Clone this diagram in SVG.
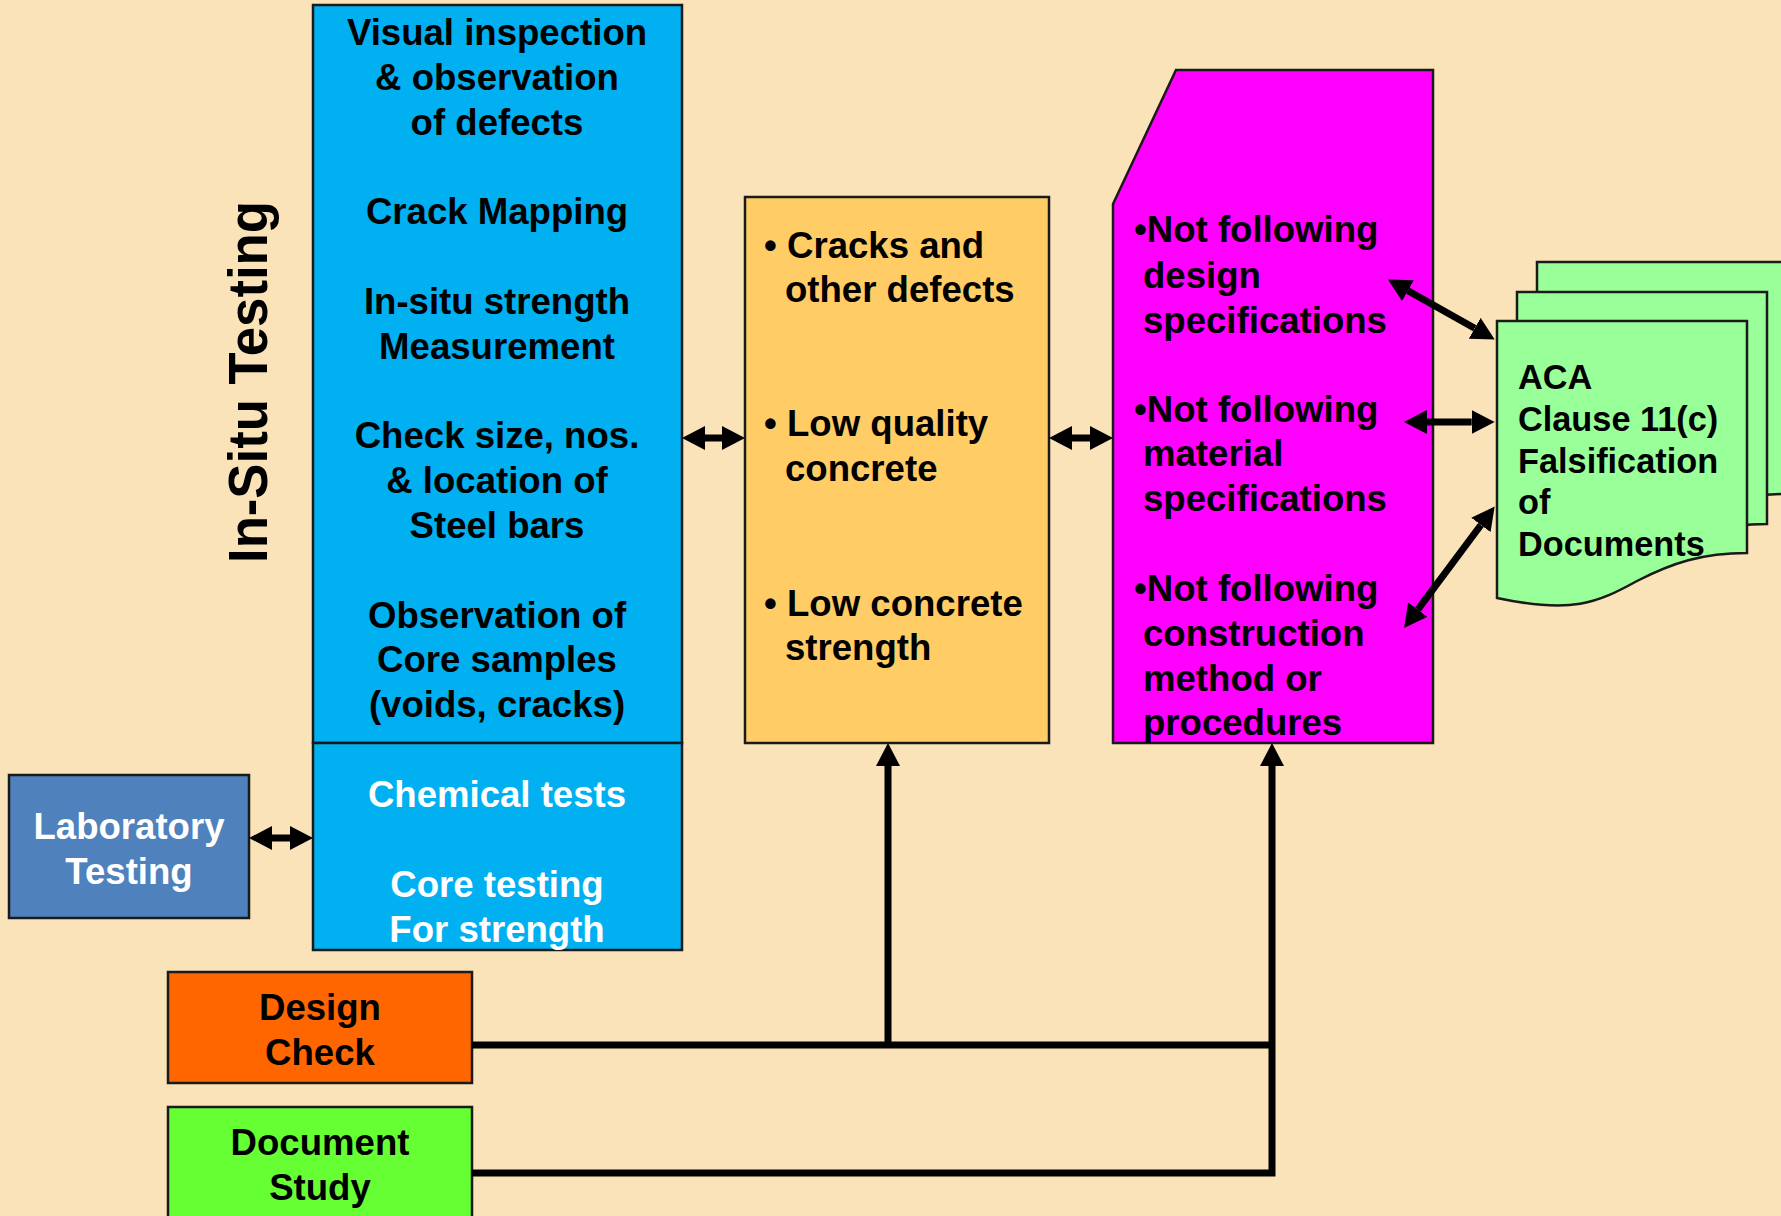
<svg xmlns="http://www.w3.org/2000/svg" width="1781" height="1216" viewBox="0 0 1781 1216">
<style>
  text { font-family: "Liberation Sans", Arial, sans-serif; font-weight: bold; }
  .t36 { font-size: 36.6px; fill: #000; }
  .w36 { font-size: 36.6px; fill: #fff; }
  .t34 { font-size: 34.3px; fill: #000; }
  .mid { text-anchor: middle; }
  .box { stroke: #1a1a1a; stroke-width: 2.5; }
  .conn { stroke: #000; stroke-width: 7; fill: none; }
</style>
<defs>
  <marker id="ah" viewBox="0 0 23 24" markerWidth="23" markerHeight="24" refX="0" refY="12" orient="auto-start-reverse" markerUnits="userSpaceOnUse">
    <path d="M0,0 L23,12 L0,24 z" fill="#000"/>
  </marker>
  <path id="docshape" d="M0,0 H250 V232 C205,232 175,242 140,260 C100,282 75,293 0,277 Z"/>
</defs>
<rect x="0" y="0" width="1781" height="1216" fill="#FAE3B8"/>

<g id="in-situ-label">
  <text transform="translate(267,382) rotate(-90)" class="mid" font-size="55" textLength="362" lengthAdjust="spacingAndGlyphs">In-Situ Testing</text>
</g>

<g id="insitu-box">
  <rect class="box" x="313" y="5" width="369" height="738" fill="#00B0F0"/>
  <text class="t36 mid" x="497" y="44.5">Visual inspection</text>
  <text class="t36 mid" x="497" y="89.5">&amp; observation</text>
  <text class="t36 mid" x="497" y="134.5">of defects</text>
  <text class="t36 mid" x="497" y="223.5">Crack Mapping</text>
  <text class="t36 mid" x="497" y="313.5">In-situ strength</text>
  <text class="t36 mid" x="497" y="358.5">Measurement</text>
  <text class="t36 mid" x="497" y="447.5">Check size, nos.</text>
  <text class="t36 mid" x="497" y="492.5">&amp; location of</text>
  <text class="t36 mid" x="497" y="537.5">Steel bars</text>
  <text class="t36 mid" x="497" y="627.5">Observation of</text>
  <text class="t36 mid" x="497" y="671.5">Core samples</text>
  <text class="t36 mid" x="497" y="716.5">(voids, cracks)</text>
</g>

<g id="lab-tests-box">
  <rect class="box" x="313" y="743" width="369" height="207" fill="#00B0F0"/>
  <text class="w36 mid" x="497" y="806.5">Chemical tests</text>
  <text class="w36 mid" x="497" y="896.5">Core testing</text>
  <text class="w36 mid" x="497" y="941.5">For strength</text>
</g>

<g id="laboratory-testing">
  <rect class="box" x="9" y="775" width="240" height="143" fill="#4F81BD"/>
  <text class="w36 mid" x="129" y="838.5">Laboratory</text>
  <text class="w36 mid" x="129" y="883.5">Testing</text>
</g>

<g id="design-check">
  <rect class="box" x="168" y="972" width="304" height="111" fill="#FF6600"/>
  <text class="t36 mid" x="320" y="1019.5">Design</text>
  <text class="t36 mid" x="320" y="1064.5">Check</text>
</g>

<g id="document-study">
  <rect class="box" x="168" y="1107" width="304" height="120" fill="#66FF33"/>
  <text class="t36 mid" x="320" y="1154.5">Document</text>
  <text class="t36 mid" x="320" y="1199.5">Study</text>
</g>

<g id="defects-box">
  <rect class="box" x="745" y="197" width="304" height="546" fill="#FFCC66"/>
  <text class="t36" x="764" y="257.5">•</text>
  <text class="t36" x="787" y="257.5">Cracks and</text>
  <text class="t36" x="785" y="302">other defects</text>
  <text class="t36" x="764" y="436">•</text>
  <text class="t36" x="787" y="436">Low quality</text>
  <text class="t36" x="785" y="481">concrete</text>
  <text class="t36" x="764" y="616">•</text>
  <text class="t36" x="787" y="616">Low concrete</text>
  <text class="t36" x="785" y="660">strength</text>
</g>

<g id="violations-box">
  <polygon class="box" points="1176,70 1433,70 1433,743 1113,743 1113,204" fill="#FF00FF"/>
  <text class="t36" x="1134" y="242">•Not following</text>
  <text class="t36" x="1143" y="288">design</text>
  <text class="t36" x="1143" y="333">specifications</text>
  <text class="t36" x="1134" y="422">•Not following</text>
  <text class="t36" x="1143" y="466">material</text>
  <text class="t36" x="1143" y="511">specifications</text>
  <text class="t36" x="1134" y="601">•Not following</text>
  <text class="t36" x="1143" y="646">construction</text>
  <text class="t36" x="1143" y="691">method or</text>
  <text class="t36" x="1143" y="735">procedures</text>
</g>

<g id="aca-documents">
  <use href="#docshape" x="1537" y="262" fill="#99FF99" stroke="#1a1a1a" stroke-width="2.5"/>
  <use href="#docshape" x="1517" y="292" fill="#99FF99" stroke="#1a1a1a" stroke-width="2.5"/>
  <use href="#docshape" x="1497" y="321" fill="#99FF99" stroke="#1a1a1a" stroke-width="2.5"/>
  <text class="t34" x="1518" y="389">ACA</text>
  <text class="t34" x="1518" y="431">Clause 11(c)</text>
  <text class="t34" x="1518" y="473">Falsification</text>
  <text class="t34" x="1518" y="514">of</text>
  <text class="t34" x="1518" y="556">Documents</text>
</g>

<g id="connectors">
  <line class="conn" x1="272" y1="838" x2="290" y2="838" marker-start="url(#ah)" marker-end="url(#ah)"/>
  <line class="conn" x1="705" y1="438" x2="722" y2="438" marker-start="url(#ah)" marker-end="url(#ah)"/>
  <line class="conn" x1="1072" y1="438" x2="1090" y2="438" marker-start="url(#ah)" marker-end="url(#ah)"/>
  <line class="conn" x1="1408" y1="290.7" x2="1474.7" y2="328.3" marker-start="url(#ah)" marker-end="url(#ah)"/>
  <line class="conn" x1="1427" y1="422" x2="1471.7" y2="422" marker-start="url(#ah)" marker-end="url(#ah)"/>
  <line class="conn" x1="1480.9" y1="525" x2="1417.8" y2="609.6" marker-start="url(#ah)" marker-end="url(#ah)"/>
  <polyline class="conn" points="472,1045 1272,1045"/>
  <polyline class="conn" points="888,1045 888,766" marker-end="url(#ah)"/>
  <polyline class="conn" points="472,1173 1272,1173 1272,766" marker-end="url(#ah)"/>
</g>
</svg>
